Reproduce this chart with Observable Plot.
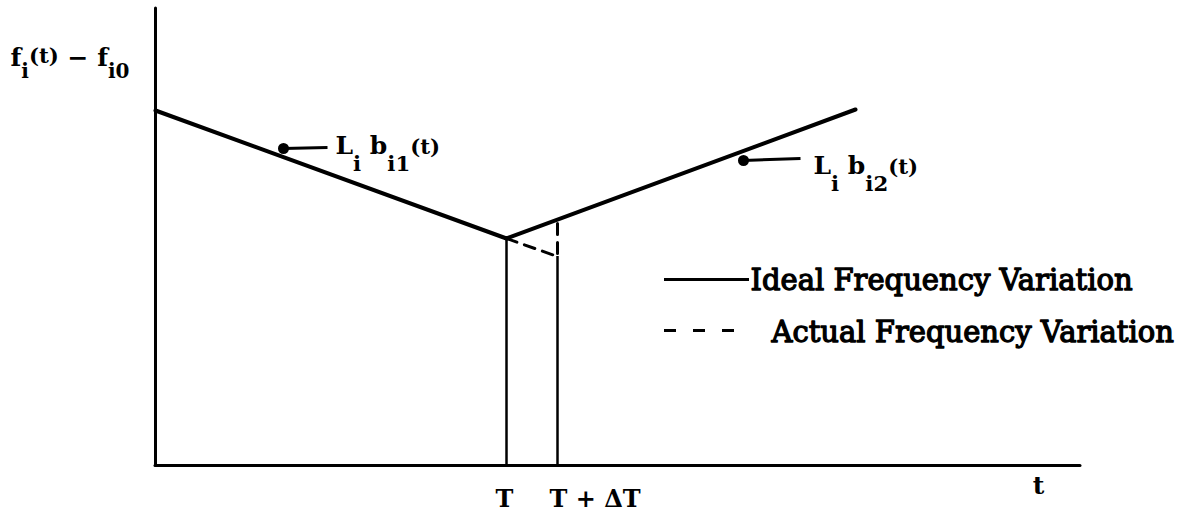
<!DOCTYPE html>
<html>
<head>
<meta charset="utf-8">
<script src="https://cdn.jsdelivr.net/npm/d3@7"></script>
<script src="https://cdn.jsdelivr.net/npm/@observablehq/plot@0.6"></script>
<style>
  body { margin: 0; background: #fff; }
</style>
</head>
<body>
<div id="chart"></div>
<script>
// Piecewise-linear frequency deviation of channel i around the switching time T.
// Units are arbitrary: t along the horizontal axis, f_i(t) - f_i0 vertically.
const T = 35.1;
const T_dT = 40.2;

// Ideal variation: slope b_i1 until T, then slope b_i2
const idealT = [0, T, 70.0];
const idealF = [35.5, 22.7, 35.6];

// Actual variation: keeps dropping until T + ΔT, then jumps onto the second segment
const actualT = [T, T_dT, T_dT];
const actualF = [22.7, 20.9, 24.6];

// Vertical markers from the time axis up to the curves
const markerT = [T, T_dT];
const markerF = [22.7, 20.9];

// Axis extents
const tMax = 92.5;
const fMax = 45.7;

// Tick labels under the time axis
const tickLabelT = "T";
const tickLabelTdT = "T + ΔT";
const axisLabel = "t";

// Pointer arrows to the two segments (tail -> head)
const arrowTailT = [17.2, 64.5];
const arrowTailF = [31.8, 30.7];
const arrowHeadT = [12.8, 58.8];
const arrowHeadF = [31.7, 30.5];

// Rich labels: [text, baseline shift (px), relative size]
const labelKeys = ["Li bi1(t)", "Li bi2(t)", "fi(t) − fi0"];
const labelT = [18.0, 65.8, -14.5];
const labelF = [32.0, 30.0, 40.8];
const labelParts = [
  [["L", 0, 1], ["i", 17, 0.85], [" b", 0, 1], ["i1", 17, 0.85], ["(t)", 0, 0.85]],
  [["L", 0, 1], ["i", 17, 0.85], [" b", 0, 1], ["i2", 17, 0.85], ["(t)", 0, 0.85]],
  [["f", 0, 1], ["i", 12, 0.8], ["(t)", -3, 0.85], [" − f", 0, 1], ["i0", 12, 0.8]]
];

// Legend
const legendIdeal = "Ideal Frequency Variation";
const legendActual = "Actual Frequency Variation";
const legendLineT = [50.9, 59.4];
const legendDashT = [50.9, 58.5];
const legendLineF = 18.6;
const legendDashF = 13.5;

const ideal = idealT.map((t, i) => ({t, f: idealF[i]}));
const actual = actualT.map((t, i) => ({t, f: actualF[i]}));
const markers = markerT.map((t, i) => ({t, f: markerF[i]}));
const arrows = arrowTailT.map((t, i) => ({t1: t, f1: arrowTailF[i], t2: arrowHeadT[i], f2: arrowHeadF[i]}));
const labels = labelKeys.map((key, i) => ({key, t: labelT[i], f: labelF[i], parts: labelParts[i]}));

const font = "DejaVu Serif";
const mathSize = 25;

const chart = Plot.plot({
  width: 1179,
  height: 514,
  marginLeft: 155,
  marginRight: 99,
  marginTop: 8,
  marginBottom: 49,
  x: {domain: [0, tMax], axis: null},
  y: {domain: [0, fMax], axis: null},
  style: {fontFamily: font, background: "#fff", color: "#000", overflow: "visible"},
  marks: [
    // axes
    Plot.ruleY([0], {x1: 0, x2: tMax, stroke: "#000", strokeWidth: 3, strokeLinecap: "round"}),
    Plot.ruleX([0], {y1: 0, y2: fMax, stroke: "#000", strokeWidth: 3, strokeLinecap: "round"}),
    // vertical markers at T and T + ΔT
    Plot.ruleX(markers, {x: "t", y1: 0, y2: "f", stroke: "#000", strokeWidth: 2.5}),
    // ideal and actual variation
    Plot.line(ideal, {x: "t", y: "f", stroke: "#000", strokeWidth: 4, strokeLinecap: "round", strokeLinejoin: "round"}),
    Plot.line(actual, {x: "t", y: "f", stroke: "#000", strokeWidth: 3, strokeDasharray: "11,8"}),
    // pointer arrows
    Plot.link(arrows, {x1: "t1", y1: "f1", x2: "t2", y2: "f2", stroke: "#000", strokeWidth: 3}),
    Plot.dot(arrows, {x: "t2", y: "f2", r: 5.5, fill: "#000", stroke: null}),
    // tick labels and axis label
    Plot.text([tickLabelT], {x: T, y: -3.4, text: (d) => d, dx: -2, fontSize: 24, fontWeight: "bold", fill: "#000"}),
    Plot.text([tickLabelTdT], {x: T_dT, y: -3.4, text: (d) => d, dx: -8, textAnchor: "start", fontSize: 24, fontWeight: "bold", fill: "#000"}),
    Plot.text([axisLabel], {x: 88.3, y: -2.0, text: (d) => d, fontSize: 25, fontWeight: "bold", fill: "#000"}),
    // labels with sub/superscripts
    Plot.text(labels, {x: "t", y: "f", text: "key", textAnchor: "start", fontSize: mathSize, fontWeight: "bold", fill: "#000"}),
    // legend
    Plot.ruleY([legendLineF], {x1: legendLineT[0], x2: legendLineT[1], stroke: "#000", strokeWidth: 3}),
    Plot.ruleY([legendDashF], {x1: legendDashT[0], x2: legendDashT[1], stroke: "#000", strokeWidth: 3, strokeDasharray: "12,17"}),
    Plot.text([legendIdeal], {x: 59.5, y: 18.5, text: (d) => d, textAnchor: "start", fontSize: 29, fill: "#000", stroke: "#000", strokeWidth: 1.3}),
    Plot.text([legendActual], {x: 61.6, y: 13.3, text: (d) => d, textAnchor: "start", fontSize: 29, fill: "#000", stroke: "#000", strokeWidth: 1.3})
  ]
});

// Rebuild the rich labels as tspans with shifted baselines
d3.select(chart).selectAll("text").each(function () {
  const lab = labels.find((l) => l.key === this.textContent);
  if (!lab) return;
  const sel = d3.select(this);
  sel.text(null);
  let prev = 0;
  lab.parts.forEach(([s, shift, scale]) => {
    sel.append("tspan")
      .attr("dy", shift - prev)
      .attr("font-size", mathSize * scale)
      .text(s);
    prev = shift;
  });
});

document.getElementById("chart").append(chart);
</script>
</body>
</html>
